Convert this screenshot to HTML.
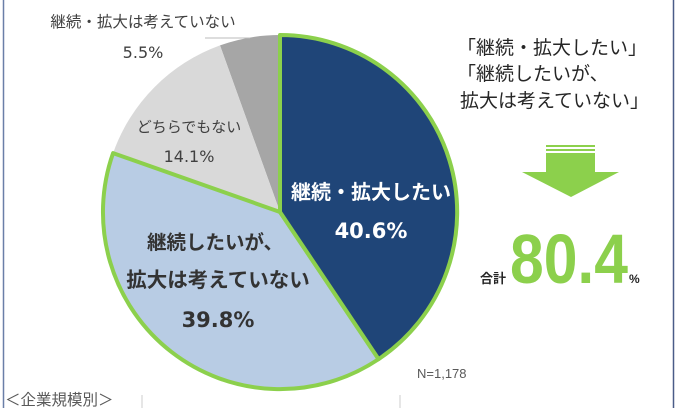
<!DOCTYPE html>
<html><head><meta charset="utf-8"><style>
body{margin:0;background:#fff;}
svg{display:block;font-family:"Liberation Sans","Noto Sans CJK JP",sans-serif;}
.n{font-family:"DejaVu Sans","Liberation Sans",sans-serif;}
</style></head><body>
<svg width="680" height="408" viewBox="0 0 680 408" xmlns="http://www.w3.org/2000/svg">
<rect x="0" y="0" width="680" height="408" fill="#fff"/>
<line x1="3.5" y1="0" x2="3.5" y2="408" stroke="#6a7fa8" stroke-width="1.5"/>
<line x1="673.5" y1="0" x2="673.5" y2="408" stroke="#4a5c88" stroke-width="1.5"/>
<line x1="142" y1="395" x2="142" y2="408" stroke="#ccc"/>
<line x1="400" y1="395" x2="400" y2="408" stroke="#ccc"/>
<path d="M280,212 L220,45.4 A177,177 0 0,1 280,35 Z" fill="#a6a6a6"/>
<path d="M280,212 L113.1,153.1 A177,177 0 0,1 220,45.4 Z" fill="#d9d9d9"/>
<line x1="205" y1="38" x2="250" y2="38" stroke="#bbb"/>
<path d="M280,212 L378.6,359.1 A177,177 0 0,1 113.1,153.1 Z" fill="#b8cce4" stroke="#8cd04c" stroke-width="4" stroke-linejoin="round"/>
<path d="M280,212 L280,35 A177,177 0 0,1 378.6,359.1 Z" fill="#1f4578" stroke="#8cd04c" stroke-width="4" stroke-linejoin="round"/>
<text x="143" y="27" font-size="15.5" fill="#404040" text-anchor="middle">継続・拡大は考えていない</text>
<text x="143" y="58" font-size="16" fill="#404040" text-anchor="middle" class="n">5.5%</text>
<text x="189" y="132" font-size="15" fill="#404040" text-anchor="middle">どちらでもない</text>
<text x="189" y="162" font-size="16" fill="#404040" text-anchor="middle" class="n">14.1%</text>
<text x="371" y="199" font-size="20" font-weight="bold" fill="#fff" text-anchor="middle">継続・拡大したい</text>
<text x="371" y="238" font-size="21" font-weight="bold" fill="#fff" text-anchor="middle" class="n">40.6%</text>
<text x="215" y="249" font-size="19.5" font-weight="bold" fill="#333" text-anchor="middle">継続したいが、</text>
<text x="218" y="287" font-size="20.5" font-weight="bold" fill="#333" text-anchor="middle">拡大は考えていない</text>
<text x="218" y="327" font-size="21" font-weight="bold" fill="#333" text-anchor="middle" class="n">39.8%</text>
<text x="417" y="378" font-size="13" fill="#595959">N=1,178</text>
<text x="5" y="405" font-size="15.5" fill="#595959">＜企業規模別＞</text>
<text x="457" y="54" font-size="19" fill="#262626">「継続・拡大したい」</text>
<text x="457" y="80" font-size="19" fill="#262626">「継続したいが、</text>
<text x="460" y="107" font-size="19" fill="#262626">拡大は考えていない」</text>
<rect x="546" y="145" width="49" height="2" fill="#8cd04c"/>
<rect x="546" y="149" width="49" height="2" fill="#8cd04c"/>
<path d="M546,153 L595,153 L595,172 L619,172 L571,197 L522,172 L546,172 Z" fill="#8cd04c"/>
<text x="480" y="283" font-size="13" font-weight="bold" fill="#262626">合計</text>
<text x="510" y="283" font-size="70" font-weight="bold" fill="#8cd04c" textLength="118" lengthAdjust="spacingAndGlyphs">80.4</text>
<text x="629" y="283" font-size="12" font-weight="bold" fill="#262626">%</text>
</svg>
</body></html>
